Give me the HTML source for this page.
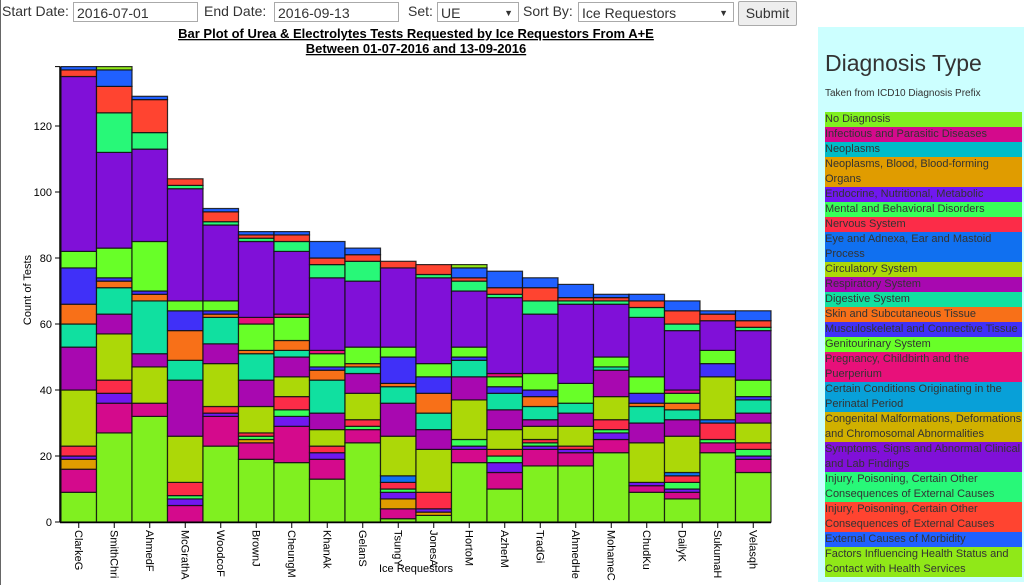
<!DOCTYPE html>
<html><head><meta charset="utf-8">
<style>
body{margin:0;width:1024px;height:585px;overflow:hidden;background:#fff;font-family:"Liberation Sans",sans-serif;position:relative}
.ctl{position:absolute;top:3px;font-size:14px;color:#333}
.inp{position:absolute;top:2px;height:20px;border:1px solid #aaa;font-size:14px;line-height:20px;padding-left:3px;box-sizing:border-box;color:#333;background:#fff}
.btn{position:absolute;left:738px;top:1px;width:59px;height:25px;border:1px solid #aaa;border-radius:2px;background:#eee;font-size:14px;line-height:23px;text-align:center;color:#333;box-sizing:border-box}
#legend{position:absolute;left:818px;top:27px;width:206px;height:555px;background:#ccffff}
.lrow{position:absolute;left:7px;width:197px;font-size:11px;line-height:15px;color:#333;white-space:pre;overflow:hidden}
</style></head><body>
<div style="position:absolute;left:0;top:0;width:1px;height:585px;background:#666"></div>
<span class="ctl" style="left:2px">Start Date:</span>
<div class="inp" style="left:73px;width:125px">2016-07-01</div>
<span class="ctl" style="left:204px">End Date:</span>
<div class="inp" style="left:274px;width:125px">2016-09-13</div>
<span class="ctl" style="left:408px">Set:</span>
<div class="inp" style="left:437px;width:82px">UE<span style="position:absolute;right:5px;font-size:9px">▼</span></div>
<span class="ctl" style="left:523px">Sort By:</span>
<div class="inp" style="left:578px;width:156px">Ice Requestors<span style="position:absolute;right:5px;font-size:9px">▼</span></div>
<div class="btn">Submit</div>
<div id="legend">
<div style="position:absolute;left:7px;top:23px;font-size:23px;color:#333">Diagnosis Type</div>
<div style="position:absolute;left:7px;top:61px;font-size:10px;color:#333">Taken from ICD10 Diagnosis Prefix</div>
</div>
<svg id="chart" width="1024" height="585" style="position:absolute;left:0;top:0"></svg>
<script>
const requestors=["ClarkeG","SmithChri","AhmedF","McGrathA","WoodcoF","BrownJ","CheungM","KhanAk","GelanS","TsungY","JonesA","HortoM","AzherM","TradGi","AhmedHe","MohameC","ChudKu","DailyK","SukumaH","Velasqh"];
const yTicks=[0,20,40,60,80,100,120];
const categories=["No Diagnosis","Infectious and Parasitic Diseases","Neoplasms","Neoplasms, Blood, Blood-forming\nOrgans","Endocrine, Nutritional, Metabolic","Mental and Behavioral Disorders","Nervous System","Eye and Adnexa, Ear and Mastoid\nProcess","Circulatory System","Respiratory System","Digestive System","Skin and Subcutaneous Tissue","Musculoskeletal and Connective Tissue","Genitourinary System","Pregnancy, Childbirth and the\nPuerperium","Certain Conditions Originating in the\nPerinatal Period","Congenital Malformations, Deformations\nand Chromosomal Abnormalities","Symptoms, Signs and Abnormal Clinical\nand Lab Findings","Injury, Poisoning, Certain Other\nConsequences of External Causes","Injury, Poisoning, Certain Other\nConsequences of External Causes","External Causes of Morbidity","Factors Influencing Health Status and\nContact with Health Services"];
const colors=["#80f020","#d40a8c","#00bcc8","#e09c00","#7018f0","#38ff58","#fc2c48","#1070f0","#acd808","#a808b0","#10e0a0","#f87018","#4030f8","#68ff28","#e8107a","#08a0d8","#d0b000","#8010d8","#28f878","#ff4430","#2060ff","#90e818"];
const noDiagnosis=[9,27,32,0,23,19,18,13,24,1,2,18,10,17,17,21,9,7,21,15];
const infectious=[7,9,4,5,9,5,11,6,4,3,0,4,5,5,4,4,2,2,3,4];
const neoplasms=[0,0,0,0,0,0,0,0,0,0,0,0,0,0,0,0,0,0,0,0];
const neoplasmsBlood=[3,0,0,0,0,1,0,0,0,3,1,0,0,0,0,0,0,0,0,0];
const endocrine=[1,3,0,2,1,0,3,2,0,2,1,1,3,1,1,2,1,1,0,1];
const mental=[0,0,0,1,0,1,2,0,1,1,0,2,2,1,0,1,0,2,1,2];
const nervous=[3,4,0,4,2,1,4,2,2,2,5,0,2,1,1,3,0,2,5,2];
const eye=[0,0,0,0,0,0,0,0,0,2,0,0,0,0,0,0,0,1,1,0];
const circulatory=[17,14,11,14,13,8,6,5,8,12,13,12,6,4,6,7,12,11,13,6];
const respiratory=[13,6,4,17,6,8,6,5,6,10,6,7,6,2,4,8,6,5,0,3];
const digestive=[7,8,16,6,8,8,2,10,2,5,5,5,5,4,3,1,5,3,0,4];
const skin=[6,2,2,9,1,1,3,3,1,1,6,0,0,3,0,0,1,2,0,0];
const musculo=[11,1,1,6,1,0,0,1,0,8,5,1,2,2,0,0,3,0,4,1];
const genito=[5,9,15,3,3,8,7,4,5,3,4,3,3,5,6,3,5,3,4,5];
const pregnancy=[0,0,0,0,0,2,1,1,0,0,0,0,1,0,0,0,0,1,0,0];
const perinatal=[0,0,0,0,0,0,0,0,0,0,0,0,0,0,0,0,0,0,0,0];
const congenital=[0,0,0,0,0,0,0,0,0,0,0,0,0,0,0,0,0,0,0,0];
const symptoms=[53,29,28,34,23,23,19,22,20,24,26,17,23,18,24,16,18,18,9,15];
const injury=[0,12,5,1,1,1,3,4,6,0,1,3,1,4,1,1,3,2,0,1];
const injury2=[2,8,10,2,3,1,2,2,2,2,3,1,2,4,1,1,2,4,2,2];
const external=[1,5,1,0,1,1,1,5,2,0,0,3,5,3,4,1,2,3,1,3];
const factors=[0,1,0,0,0,0,0,0,0,0,0,1,0,0,0,0,0,0,0,0];
const series=[noDiagnosis,infectious,neoplasms,neoplasmsBlood,endocrine,mental,nervous,eye,circulatory,respiratory,digestive,skin,musculo,genito,pregnancy,perinatal,congenital,symptoms,injury,injury2,external,factors];

const NS="http://www.w3.org/2000/svg";
const svg=document.getElementById('chart');
const X0=61,X1=771,Y0=522,PXU=3.3;
const bw=(X1-X0)/requestors.length;
const xPos=i=>X0+i*bw;
const yPos=v=>Y0-v*PXU;
function mk(tag,attrs,parent){const e=document.createElementNS(NS,tag);for(const k in attrs)e.setAttribute(k,attrs[k]);(parent||svg).appendChild(e);return e;}

const t1=mk('text',{x:416,y:38,'text-anchor':'middle','font-size':13,'font-weight':'bold','text-decoration':'underline','font-family':'Liberation Sans, sans-serif',fill:'#000'});


t1.textContent='Bar Plot of Urea & Electrolytes Tests Requested by Ice Requestors From A+E';
const t2=mk('text',{x:416,y:53,'text-anchor':'middle','font-size':13,'font-weight':'bold','text-decoration':'underline','font-family':'Liberation Sans, sans-serif',fill:'#000'});


t2.textContent='Between 01-07-2016 and 13-09-2016';

const gBars=mk('g',{});


requestors.forEach((r,i)=>{
  let cum=0;
  series.forEach((s,c)=>{
    const v=s[i]; if(!v) return;
    const rect=mk('rect',{x:xPos(i),y:yPos(cum+v),width:bw,height:v*PXU,fill:colors[c],stroke:'#111','stroke-width':1.2,'stroke-opacity':0.85},gBars);
    
    
    cum+=v;
  });
});

const ya=mk('line',{x1:X0-1,y1:yPos(138),x2:X0-1,y2:Y0,stroke:'#000','stroke-width':1.5});


mk('line',{x1:X0-6,y1:yPos(138),x2:X0-1,y2:yPos(138),stroke:'#000'});
yTicks.forEach(v=>{
  const tk=mk('line',{x1:X0-6,y1:yPos(v),x2:X0-1,y2:yPos(v),stroke:'#000'});
  
  
  const tl=mk('text',{x:X0-9,y:yPos(v)+4,'text-anchor':'end','font-size':11,'font-family':'Liberation Sans, sans-serif',fill:'#000'});
  
  
  tl.textContent=v;
});
const yt=mk('text',{x:0,y:0,transform:'translate(31,290) rotate(-90)','text-anchor':'middle','font-size':11,'font-family':'Liberation Sans, sans-serif',fill:'#000'});


yt.textContent='Count of Tests';

const xa=mk('line',{x1:X0-1,y1:Y0+0.5,x2:X1,y2:Y0+0.5,stroke:'#000','stroke-width':1.5});


requestors.forEach((r,i)=>{
  const cx=xPos(i)+bw/2;
  const tk=mk('line',{x1:cx,y1:Y0,x2:cx,y2:Y0+6,stroke:'#000'});
  
  
  const tl=mk('text',{x:0,y:0,transform:`translate(${cx-4},${Y0+8}) rotate(90)`,'text-anchor':'start','font-size':11,'font-family':'Liberation Sans, sans-serif',fill:'#000'});
  
  
  tl.textContent=r;
});
const xt=mk('text',{x:416,y:572,'text-anchor':'middle','font-size':11,'font-family':'Liberation Sans, sans-serif',fill:'#000'});


xt.textContent='Ice Requestors';

const lg=document.getElementById('legend');
let ly=85;
categories.forEach((c,i)=>{
  const lines=c.split('\n').length;
  const d=document.createElement('div');
  d.className='lrow';
  
  
  d.style.top=ly+'px';
  d.style.height=(lines*15)+'px';
  d.style.background=colors[i];
  d.textContent=c;
  lg.appendChild(d);
  ly+=lines*15;
});
</script>
</body></html>
